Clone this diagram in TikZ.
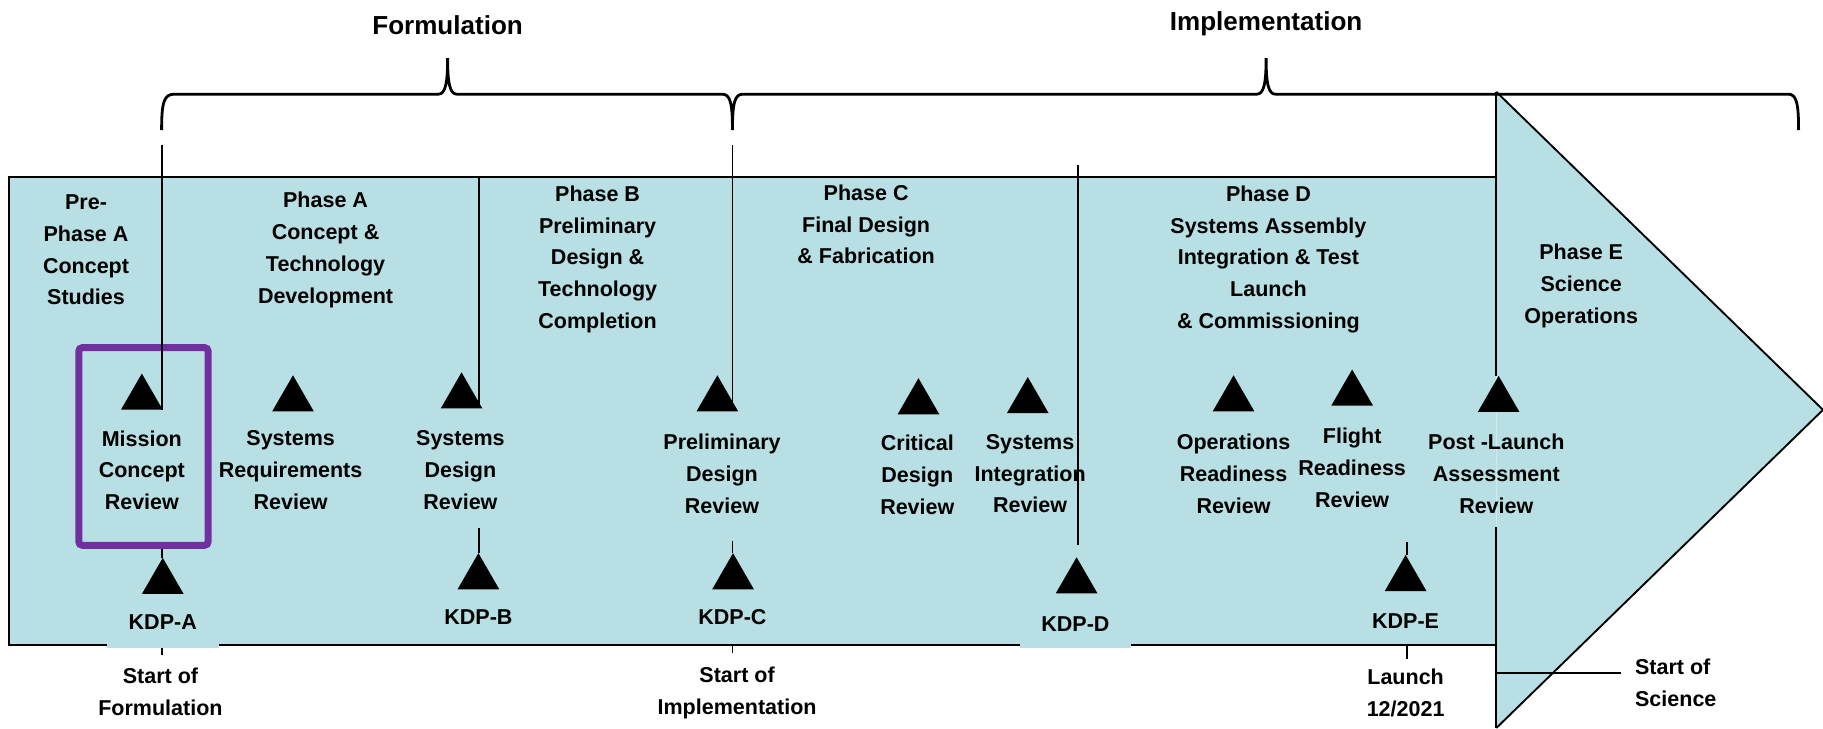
\documentclass[tikz,border=0pt]{standalone}
\usepackage{fontspec}
\setmainfont{Liberation Sans}
\usetikzlibrary{shapes.geometric}
\definecolor{bgc}{RGB}{184,223,227}
\definecolor{pur}{RGB}{112,48,160}
\pgfdeclarelayer{back}
\pgfdeclarelayer{lines}
\pgfsetlayers{back,lines,main}
\begin{document}
\begin{tikzpicture}[x=0.5pt,y=-0.5pt,
  lbl/.style={font=\fontsize{9.25pt}{13.65pt}\selectfont\bfseries, align=center, inner sep=0pt},
  kdp/.style={lbl, text height=0.72em, text depth=0pt},
  ttl/.style={font=\fontsize{11.2pt}{13pt}\selectfont\bfseries, inner sep=0pt, text height=0.72em, text depth=0.21em},
  tri/.style={regular polygon, regular polygon sides=3, fill=black, draw=none, inner sep=0pt, outer sep=0pt, minimum size=20.7pt},
  thinline/.style={line width=0.8pt},
  brace/.style={line width=1.2pt},
  gapfill/.style={fill=bgc}
]
\useasboundingbox (0,0) rectangle (1568,626.2);

% key coordinates
\coordinate (rTL) at (8,152);
\coordinate (rBR) at (1287,555);
\coordinate (aTop) at (1287,79);
\coordinate (aTip) at (1568,352.5);
\coordinate (aBot) at (1287,626.2);

\begin{pgfonlayer}{back}
  \fill[bgc] (rTL) rectangle (rBR);
  \fill[bgc] (aTop) -- (aTip) -- (aBot) -- cycle;
  \draw[line width=1pt] (rTL -| rBR) -- (rTL) -- (rTL |- rBR) -- (rBR);
  \draw[thinline] (aTop) -- (aTip) -- (aBot);
\end{pgfonlayer}

% braces
\draw[brace] (139,112) .. controls (139,88) and (141,81) .. (150,81) -- (377,81)
  .. controls (383,81) and (385,72) .. (385,50) .. controls (385,72) and (387,81) .. (393,81)
  -- (621,81) .. controls (628,81) and (630,88) .. (630,112)
  .. controls (630,88) and (632,81) .. (639,81) -- (1081,81)
  .. controls (1087,81) and (1089,72) .. (1089,50) .. controls (1089,72) and (1091,81) .. (1097,81)
  -- (1538,81) .. controls (1545,81) and (1547,88) .. (1547,112);

% titles
\node[ttl] (formT) at (385,24.5) {Formulation};
\node[ttl] (implT) at (1089,21.5) {Implementation};

% phase labels
\node[lbl] (preA) at (74,215) {Pre-\\Phase A\\Concept\\Studies};
\node[lbl] (phA) at (280,215) {Phase A\\Concept \&\\Technology\\Development};
\node[lbl] (phB) at (514,223) {Phase B\\Preliminary\\Design \&\\Technology\\Completion};
\node[lbl] (phC) at (745,193) {Phase C\\Final Design\\\& Fabrication};
\node[lbl] (phD) at (1091,223) {Phase D\\Systems Assembly\\Integration \& Test\\Launch\\\& Commissioning};
\node[lbl] (phE) at (1360,246) {Phase E\\Science\\Operations};

% review labels
\node[lbl] (mcr) at (122,404.5) {Mission\\Concept\\Review};
\node[lbl] (srr) at (250,404.5) {Systems\\Requirements\\Review};
\node[lbl] (sdr) at (396,404.5) {Systems\\Design\\Review};
\node[lbl] (pdr) at (621,407.5) {Preliminary\\Design\\Review};
\node[lbl] (cdr) at (789,408.5) {Critical\\Design\\Review};
\node[lbl] (sir) at (886,407.5) {Systems\\Integration\\Review};
\node[lbl] (orr) at (1061,407.5) {Operations\\Readiness\\Review};
\node[lbl] (frr) at (1163,402.5) {Flight\\Readiness\\Review};
\node[lbl] (plar) at (1287,407.5) {Post -Launch\\Assessment\\Review};

% KDP labels
\node[kdp, gapfill, minimum width=48pt, minimum height=23pt] (kdpA) at (140,534) {KDP-A};
\node[kdp] (kdpB) at (411.5,530) {KDP-B};
\node[kdp] (kdpC) at (630,530) {KDP-C};
\node[kdp, gapfill, minimum width=47.5pt, minimum height=21pt] (kdpD) at (925,536) {KDP-D};
\node[kdp] (kdpE) at (1209,533) {KDP-E};

% bottom labels
\node[lbl] (sof) at (138,595) {Start of\\Formulation};
\node[lbl] (soi) at (634,596) {Start of\\Implementation};
\node[lbl] (lau) at (1209,596) {Launch\\12/2021};
\node[lbl, align=left, anchor=west] (sos) at (1406,587) {Start of\\Science};

% review triangles
\node[tri] (mcrT) at (122,342) {};
\node[tri] (srrT) at (252,343.5) {};
\node[tri] (sdrT) at (397,341) {};
\node[tri] (pdrT) at (617,343.5) {};
\node[tri] (cdrT) at (790,346) {};
\node[tri] (sirT) at (884,345) {};
\node[tri] (orrT) at (1061,343.5) {};
\node[tri] (frrT) at (1163,338.5) {};
\node[tri] (plarT) at (1289,344) {};

% KDP triangles
\node[tri] (kdpAT) at (140,500.5) {};
\node[tri] (kdpBT) at (411.5,496.5) {};
\node[tri] (kdpCT) at (630.5,496.5) {};
\node[tri] (kdpDT) at (926,500) {};
\node[tri] (kdpET) at (1209,498) {};

\begin{pgfonlayer}{lines}
  \node[draw=pur, line width=3pt, rounded corners=1.5pt, inner sep=0pt,
        minimum width=55.6pt, minimum height=85pt] (mcrBox) at (123.4,384) {};
  % milestone lines
  \coordinate (tA) at (139,125);
  \coordinate (bA) at (139,563);
  \coordinate (tB) at (412,152);
  \coordinate (sB) at (412,454);
  \coordinate (tC) at (630,125);
  \coordinate (sC) at (630,465);
  \coordinate (bC) at (630,562);
  \coordinate (tD) at (927,142);
  \coordinate (eD) at (927,469);
  \coordinate (sE) at (1210,466);
  \coordinate (bE) at (1210,567);
  \coordinate (sP) at (1287,453);
  \coordinate (sS) at (1287,579);
  \coordinate (eS) at (1394,579);

  \draw[thinline] (tA) -- (mcrT.corner 3 -| tA);
  \draw[thinline] (mcrBox.south -| tA) -- (kdpAT.corner 1 -| tA);
  \draw[thinline] (tA |- rBR) -- (bA);

  \draw[thinline] (tB) -- (sdrT.corner 3 -| tB);
  \draw[thinline] (sB) -- (kdpBT.corner 1 -| sB);

  \draw[thinline] (tC) -- (pdrT.corner 3 -| tC);
  \draw[thinline] (sC) -- (kdpCT.corner 1 -| sC);
  \draw[thinline] (tC |- rBR) -- (bC);

  \draw[thinline] (tD) -- (eD);

  \draw[thinline] (sE) -- (kdpET.corner 1 -| sE);
  \draw[thinline] (sE |- rBR) -- (bE);

  \draw[thinline] (aTop) -- (plarT.corner 1 -| aTop);
  \draw[thinline] (sP) -- (aBot);

  \draw[thinline] (sS) -- (eS);
\end{pgfonlayer}
\end{tikzpicture}
\end{document}
